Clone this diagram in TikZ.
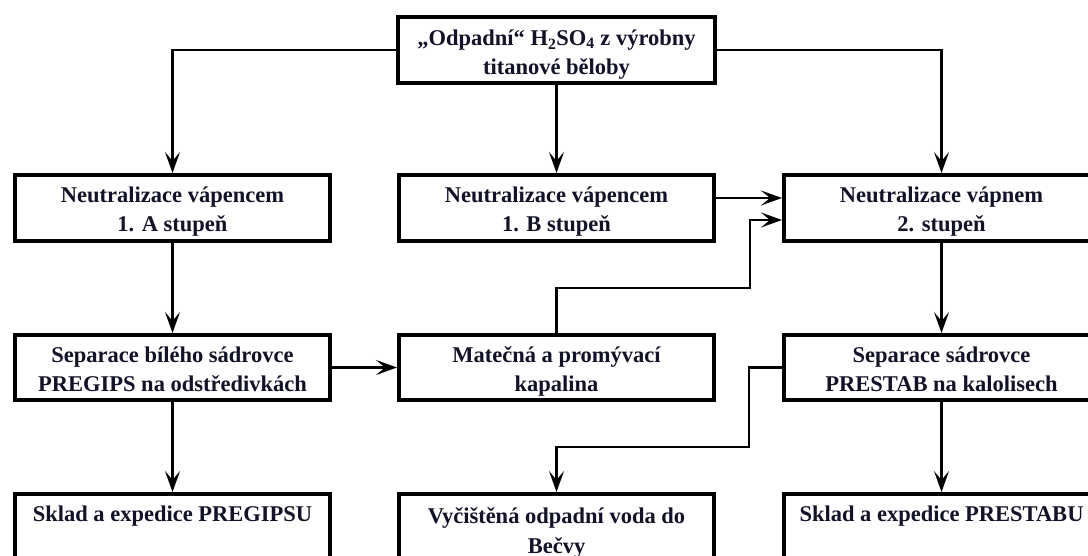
\documentclass[tikz,border=0pt]{standalone}
\usepackage{fontspec}
\setmainfont{Liberation Serif}
\usetikzlibrary{arrows.meta}
\definecolor{ink}{RGB}{18,18,40}
\newcommand\firstln{\rule{0pt}{24pt}}
\newcommand\lastln{\rule[-5pt]{0pt}{5pt}}
\begin{document}
\begin{tikzpicture}[x=1pt,y=-1pt,
  box/.style={draw=black, line width=4pt, minimum width=315pt, minimum height=66pt,
    inner sep=0pt, font=\bfseries\fontsize{22.5}{29}\selectfont, text=ink, align=center},
  txt/.style={font=\bfseries\fontsize{22.5}{29}\selectfont, text=ink, inner sep=0pt},
  conn/.style={line width=2.2pt, -{Stealth[length=21pt,width=15pt,inset=9pt]}}]
\useasboundingbox (0,0) rectangle (1088,556);
\fill[white] (0,0) rectangle (1088,556);
\clip (0,0) rectangle (1088,556);
% boxes
\node[box, minimum width=317pt] (top) at (556.5,50) {\rule{0pt}{25.5pt}„Odpadní“ H\textsubscript{2}SO\textsubscript{4} z výrobny\\titanové běloby\lastln};
\node[box] (l2) at (172.5,208) {\firstln Neutralizace vápencem\\1. A stupeň\lastln};
\node[box] (m2) at (556.5,208) {\firstln Neutralizace vápencem\\1. B stupeň\lastln};
\node[box] (r2) at (941.5,208) {\firstln Neutralizace vápnem\\2. stupeň\lastln};
\node[box, minimum height=65pt] (l3) at (172.5,367.5) {\firstln Separace bílého sádrovce\\PREGIPS na odstředivkách\lastln};
\node[box, minimum height=65pt] (m3) at (556.5,367.5) {\firstln Matečná a promývací\\kapalina\lastln};
\node[box, minimum height=65pt] (r3) at (941.5,367.5) {\firstln Separace sádrovce\\PRESTAB na kalolisech\lastln};
\node[box, minimum height=90pt] (l4) at (172.5,539) {};
\node[box, minimum height=90pt] (m4) at (556.5,539) {};
\node[box, minimum height=90pt] (r4) at (941.5,539) {};
\node[txt, anchor=base] (l4t) at (172.5,521) {Sklad a expedice PREGIPSU};
\node[txt, anchor=base] (m4t) at (556.5,523) {Vyčištěná odpadní voda do};
\node[txt, anchor=base] (m4u) at (556.5,553) {Bečvy};
\node[txt, anchor=base] (r4t) at (941.5,521) {Sklad a expedice PRESTABU};
% junctions
\coordinate (j1) at (750,288);
\coordinate (j2) at (749,447);
% connectors
\draw[conn] (top.west) -| (l2.north);
\draw[conn] (top.east) -| (r2.north);
\draw[conn] (top.south) -- (m2.north);
\draw[conn] ([yshift=10pt]m2.east) -- ([yshift=10pt]r2.west);
\draw[conn] (m3.north) |- (j1) |- ([yshift=-12pt]r2.west);
\draw[conn] (l2.south) -- (l3.north);
\draw[conn] (r2.south) -- (r3.north);
\draw[conn] (l3.east) -- (m3.west);
\draw[conn] (r3.west) -| (j2) -| (m4.north);
\draw[conn] (l3.south) -- (l4.north);
\draw[conn] (r3.south) -- (r4.north);
\end{tikzpicture}
\end{document}
